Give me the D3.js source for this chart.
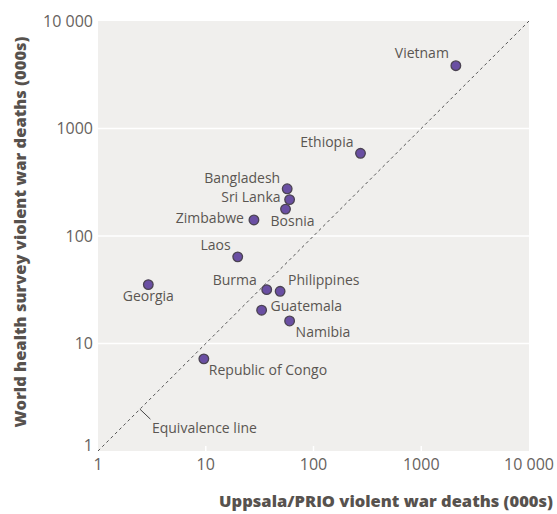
<!DOCTYPE html>
<html>
<head>
<meta charset="utf-8">
<script src="https://cdn.jsdelivr.net/npm/d3@7"></script>
<style>
  body { margin: 0; background: #fff; }
  svg { font-family: "Open Sans", "Noto Sans", sans-serif; }
</style>
</head>
<body>
<svg id="chart" width="557" height="514"></svg>
<script>
// Countries and their violent war deaths (000s)
const countries = ["Vietnam", "Ethiopia", "Bangladesh", "Sri Lanka", "Bosnia", "Zimbabwe", "Laos",
  "Burma", "Philippines", "Guatemala", "Namibia", "Georgia", "Republic of Congo"];
const uppsalaDeaths = [2095, 273, 57, 60, 55, 28, 19.8, 36.8, 49, 33, 60, 2.93, 9.6];
const surveyDeaths = [3840, 588, 275, 218, 178, 141, 64, 31.7, 30.6, 20.4, 16.2, 35.3, 7.2];
// label placement: anchor, dx, dy (baseline offset from point)
const labelPos = [
  ["end", -7, -8], ["end", -7, -6], ["end", -7, -6], ["end", -9, 2], ["start", -15, 17],
  ["end", -10, 3], ["end", -7, -7], ["end", -10, -5], ["start", 8, -6], ["start", 9, 1],
  ["start", 6, 16], ["middle", 0, 16], ["start", 5, 16]
];
const tickValues = [1, 10, 100, 1000, 10000];
const tickLabels = ["1", "10", "100", "1000", "10 000"];

const WIDTH = 557;
const HEIGHT = 514;
const MARGINS = { top: 21, right: 28, bottom: 63, left: 98 };

const svg = d3.select("#chart");

const data = countries.map((c, i) => ({
  name: c, x: uppsalaDeaths[i], y: surveyDeaths[i],
  anchor: labelPos[i][0], dx: labelPos[i][1], dy: labelPos[i][2]
}));

const xScale = d3.scaleLog()
  .domain([1, 10000])
  .range([MARGINS.left, WIDTH - MARGINS.right]);

const yScale = d3.scaleLog()
  .domain([1, 10000])
  .range([HEIGHT - MARGINS.bottom, MARGINS.top]);

// plot background
svg.append("rect")
  .attr("x", MARGINS.left)
  .attr("y", MARGINS.top)
  .attr("width", WIDTH - MARGINS.right - MARGINS.left)
  .attr("height", HEIGHT - MARGINS.bottom - MARGINS.top)
  .attr("fill", "#f0efed");

// horizontal white gridlines
svg.append("g")
  .selectAll("line")
  .data(tickValues.slice(1, -1))
  .join("line")
    .attr("x1", MARGINS.left)
    .attr("x2", WIDTH - MARGINS.right)
    .attr("y1", d => yScale(d))
    .attr("y2", d => yScale(d))
    .attr("stroke", "#fff")
    .attr("stroke-width", 1.5);

// short white ticks at bottom of the plot
svg.append("g")
  .selectAll("line")
  .data(tickValues.slice(1, -1))
  .join("line")
    .attr("x1", d => xScale(d))
    .attr("x2", d => xScale(d))
    .attr("y1", HEIGHT - MARGINS.bottom)
    .attr("y2", HEIGHT - MARGINS.bottom - 5)
    .attr("stroke", "#fff")
    .attr("stroke-width", 1.5);

// equivalence line
svg.append("line")
  .attr("x1", xScale(1)).attr("y1", yScale(1))
  .attr("x2", xScale(10000)).attr("y2", yScale(10000))
  .attr("stroke", "#555")
  .attr("stroke-width", 1)
  .attr("stroke-dasharray", "3,3");

const eqX = xScale(2.45), eqY = yScale(2.45);
svg.append("line")
  .attr("x1", eqX).attr("y1", eqY)
  .attr("x2", eqX + 10.5).attr("y2", eqY + 10)
  .attr("stroke", "#444")
  .attr("stroke-width", 1);
svg.append("text")
  .attr("x", eqX + 12).attr("y", eqY + 24)
  .attr("font-size", "14px")
  .attr("fill", "#5a5652")
  .text("Equivalence line");

// axis tick labels
svg.append("g")
  .selectAll("text")
  .data(tickValues)
  .join("text")
    .attr("x", d => xScale(d))
    .attr("y", HEIGHT - MARGINS.bottom + 19)
    .attr("text-anchor", "middle")
    .attr("font-size", "16px")
    .attr("fill", "#66625e")
    .text((d, i) => tickLabels[i]);

svg.append("g")
  .selectAll("text")
  .data(tickValues)
  .join("text")
    .attr("x", MARGINS.left - 5)
    .attr("y", d => yScale(d))
    .attr("dy", d => d === 1 ? "0" : "0.35em")
    .attr("text-anchor", "end")
    .attr("font-size", "16px")
    .attr("fill", "#66625e")
    .text((d, i) => tickLabels[i]);

// points
svg.append("g")
  .selectAll("circle")
  .data(data)
  .join("circle")
    .attr("cx", d => xScale(d.x))
    .attr("cy", d => yScale(d.y))
    .attr("r", 4.8)
    .attr("fill", "#6a4fa3")
    .attr("stroke", "#4b4352")
    .attr("stroke-width", 1.3);

// point labels
svg.append("g")
  .selectAll("text")
  .data(data)
  .join("text")
    .attr("x", d => xScale(d.x) + d.dx)
    .attr("y", d => yScale(d.y) + d.dy)
    .attr("text-anchor", d => d.anchor)
    .attr("font-size", "14px")
    .attr("fill", "#5a5652")
    .text(d => d.name);

// axis titles
svg.append("text")
  .attr("x", WIDTH - 4)
  .attr("y", 507)
  .attr("text-anchor", "end")
  .attr("font-size", "16.5px")
  .attr("font-weight", "800")
  .attr("fill", "#57524e")
  .text("Uppsala/PRIO violent war deaths (000s)");

svg.append("text")
  .attr("transform", `translate(26, 232) rotate(-90)`)
  .attr("text-anchor", "middle")
  .attr("font-size", "16.5px")
  .attr("font-weight", "800")
  .attr("fill", "#57524e")
  .text("World health survey violent war deaths (000s)");
</script>
</body>
</html>
